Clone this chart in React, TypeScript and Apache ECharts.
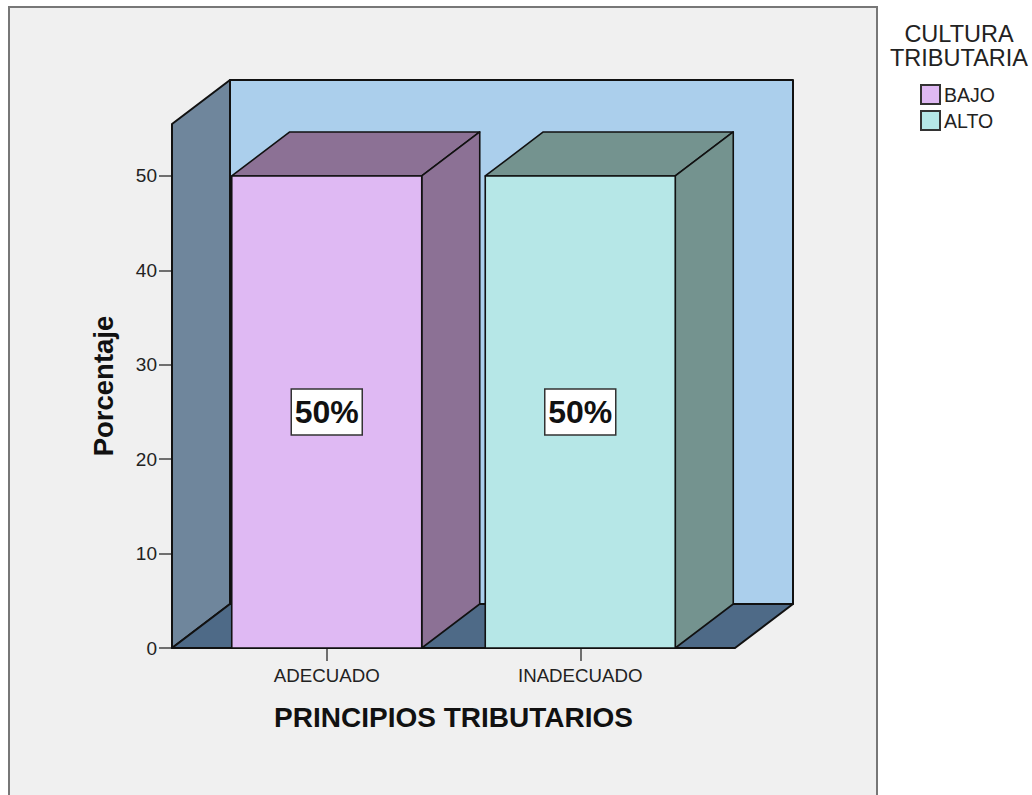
import React, { useEffect, useRef } from "react";
import * as echarts from "echarts";

const categories = ["ADECUADO", "INADECUADO"];
const bajoPoints = [[0, 50]];
const altoPoints = [[1, 50]];
const yTicks = [0, 10, 20, 30, 40, 50];
const yMax = 55.5;
const legendTitle = "CULTURA\nTRIBUTARIA";

const FONT = "'Liberation Sans', Arial, sans-serif";
const DX = 58;
const DY = -44;
const SIDE = 28;
const BAR_W = 190;
const LINE = "#111";

function App() {
  const ref = useRef<HTMLDivElement>(null);
  useEffect(() => {
    document.body.style.margin = "0";
    document.body.style.overflow = "hidden";
    const chart = echarts.init(ref.current!, undefined, { renderer: "svg" });

    const poly = (pts: number[][], fill: string, lw = 1.6) => ({
      type: "polygon",
      shape: { points: pts },
      style: { fill, stroke: LINE, lineWidth: lw, lineJoin: "round" },
    });

    const renderWalls = (params: any, api: any) => {
      const cs = params.coordSys;
      const y0 = api.coord([0, 0])[1];
      const yT = api.coord([0, yMax])[1];
      const l = cs.x - SIDE;
      const r = cs.x + cs.width + SIDE;
      return {
        type: "group",
        children: [
          poly([[l + DX, yT + DY], [r + DX, yT + DY], [r + DX, y0 + DY], [l + DX, y0 + DY]], "#abcfec", 2),
          poly([[l, yT], [l + DX, yT + DY], [l + DX, y0 + DY], [l, y0]], "#6f869c", 2),
          poly([[l, y0], [l + DX, y0 + DY], [r + DX, y0 + DY], [r, y0]], "#4e6a87", 2),
        ],
      };
    };

    const renderBar = (front: string, shade: string) => (_: any, api: any) => {
      const [cx, yTop] = api.coord([api.value(0), api.value(1)]);
      const y0 = api.coord([api.value(0), 0])[1];
      const yMid = api.coord([api.value(0), api.value(1) / 2])[1];
      const l = cx - BAR_W / 2;
      const r = cx + BAR_W / 2;
      return {
        type: "group",
        children: [
          poly([[l, yTop], [l + DX, yTop + DY], [r + DX, yTop + DY], [r, yTop]], shade),
          poly([[r, yTop], [r + DX, yTop + DY], [r + DX, y0 + DY], [r, y0]], shade),
          poly([[l, yTop], [r, yTop], [r, y0], [l, y0]], front),
          {
            type: "rect",
            shape: { x: cx - 35.5, y: yMid - 23, width: 71, height: 46 },
            style: { fill: "#fff", stroke: "#333", lineWidth: 1.5 },
          },
          {
            type: "text",
            x: cx,
            y: yMid,
            style: {
              text: `${api.value(1)}%`,
              font: `bold 32px ${FONT}`,
              fill: "#111",
              align: "center",
              verticalAlign: "middle",
            },
          },
        ],
      };
    };

    chart.setOption({
      animation: false,
      backgroundColor: "#ffffff",
      textStyle: { fontFamily: FONT },
      grid: { left: 200, top: 124, width: 507, height: 524, containLabel: false },
      graphic: [
        {
          type: "rect",
          z: -10,
          silent: true,
          shape: { x: 9, y: 7, width: 868, height: 810 },
          style: { fill: "#f0f0f0", stroke: "#777", lineWidth: 2 },
        },
        {
          type: "text",
          x: 959,
          y: 22,
          silent: true,
          style: {
            text: legendTitle,
            font: `23.5px ${FONT}`,
            lineHeight: 24,
            fill: "#222",
            align: "center",
          },
        },
      ],
      legend: {
        data: ["BAJO", "ALTO"],
        orient: "vertical",
        left: 915,
        top: 79,
        itemWidth: 19,
        itemHeight: 19,
        itemGap: 5,
        icon: "rect",
        selectedMode: false,
        textStyle: { fontSize: 19.5, color: "#222", fontFamily: FONT, padding: [0, 0, 0, -1] },
      },
      xAxis: {
        type: "category",
        data: categories,
        name: "PRINCIPIOS TRIBUTARIOS",
        nameLocation: "middle",
        nameGap: 55,
        nameTextStyle: { fontSize: 28, fontWeight: "bold", color: "#111", fontFamily: FONT },
        axisLine: { show: false },
        axisTick: { show: true, alignWithLabel: true, length: 13, lineStyle: { color: "#444", width: 1.5 } },
        axisLabel: { fontSize: 18.7, color: "#222", margin: 18, fontFamily: FONT },
      },
      yAxis: {
        type: "value",
        min: 0,
        max: yMax,
        offset: SIDE,
        name: "Porcentaje",
        nameLocation: "middle",
        nameGap: 55,
        nameRotate: 90,
        nameTextStyle: { fontSize: 27.5, fontWeight: "bold", color: "#111", fontFamily: FONT },
        axisLine: { show: false },
        splitLine: { show: false },
        axisTick: { show: true, length: 13, customValues: yTicks, lineStyle: { color: "#444", width: 1.5 } },
        axisLabel: { fontSize: 19, color: "#222", margin: 15, customValues: yTicks, fontFamily: FONT },
      },
      series: [
        {
          type: "custom",
          name: "walls",
          silent: true,
          clip: false,
          z: 1,
          data: [[0, 0]],
          renderItem: renderWalls,
        },
        {
          type: "custom",
          name: "BAJO",
          clip: false,
          z: 2,
          itemStyle: { color: "#dfb9f3", borderColor: "#333", borderWidth: 1.5 },
          data: bajoPoints,
          renderItem: renderBar("#dfb9f3", "#8c7195"),
        },
        {
          type: "custom",
          name: "ALTO",
          clip: false,
          z: 3,
          itemStyle: { color: "#b6e7e7", borderColor: "#333", borderWidth: 1.5 },
          data: altoPoints,
          renderItem: renderBar("#b6e7e7", "#74938f"),
        },
      ],
    });
    return () => chart.dispose();
  }, []);
  return <div ref={ref} style={{ width: 1032, height: 795, display: "block" }} />;
}

export default App;
